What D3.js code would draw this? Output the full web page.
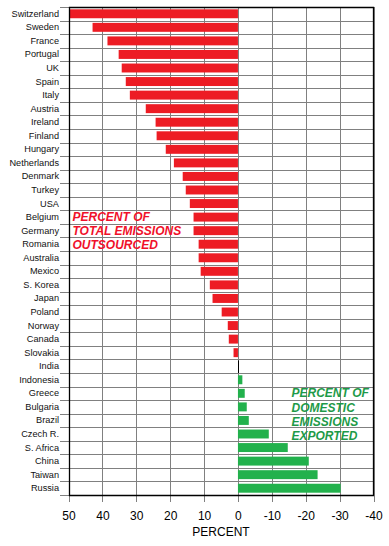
<!DOCTYPE html>
<html>
<head>
<script src="https://d3js.org/d3.v7.min.js"></script>
<style>
    body { margin: 0; background: #fff; }
    text { font-family: Arial, "Liberation Sans", sans-serif; }
</style>
</head>
<body>
<script>
// countries top to bottom, positive = percent of total emissions outsourced,
// negative = percent of domestic emissions exported
var countries = ['Switzerland', 'Sweden', 'France', 'Portugal', 'UK', 'Spain', 'Italy', 'Austria',
    'Ireland', 'Finland', 'Hungary', 'Netherlands', 'Denmark', 'Turkey', 'USA', 'Belgium',
    'Germany', 'Romania', 'Australia', 'Mexico', 'S. Korea', 'Japan', 'Poland', 'Norway',
    'Canada', 'Slovakia', 'India', 'Indonesia', 'Greece', 'Bulgaria', 'Brazil', 'Czech R.',
    'S. Africa', 'China', 'Taiwan', 'Russia'];
var values = [49.6, 42.9, 38.5, 35.2, 34.3, 33.1, 31.9, 27.2,
    24.3, 24.0, 21.3, 18.9, 16.3, 15.4, 14.2, 13.1,
    13.1, 11.6, 11.6, 11.0, 8.3, 7.5, 4.8, 3.0,
    2.7, 1.3, 0, -1.3, -2.0, -2.6, -3.2, -9.1,
    -14.7, -20.9, -23.5, -30.3];
var xTicks = [50, 40, 30, 20, 10, 0, -10, -20, -30, -40];
var outsourcedNote = ['PERCENT OF', 'TOTAL EMISSIONS', 'OUTSOURCED'];
var exportedNote = ['PERCENT OF', 'DOMESTIC', 'EMISSIONS', 'EXPORTED'];

var width = 389, height = 546;
var plotLeft = 68.5, plotRight = 373.5, plotTop = 7, plotBottom = 495;

var data = countries.map((c, i) => ({country: c, value: values[i]}));

var svg = d3.select('body').append('svg')
    .attr('width', width)
    .attr('height', height);

var x = d3.scaleLinear().domain([50, -40]).range([plotLeft, plotRight]);
var y = d3.scaleBand().domain(countries).range([plotTop, plotBottom]);

// grid
var grid = svg.append('g').attr('stroke', '#808080').attr('stroke-width', 1);
grid.selectAll('.vg')
    .data(xTicks)
    .enter().append('line')
    .attr('x1', d => Math.round(x(d)) + 0.5)
    .attr('x2', d => Math.round(x(d)) + 0.5)
    .attr('y1', plotTop)
    .attr('y2', plotBottom + 7);
grid.selectAll('.hg')
    .data(countries.concat(['_end']))
    .enter().append('line')
    .attr('x1', 60)
    .attr('x2', plotRight)
    .attr('y1', d => Math.round(d == '_end' ? plotBottom : y(d)) + 0.5)
    .attr('y2', d => Math.round(d == '_end' ? plotBottom : y(d)) + 0.5);

// bars
var barH = y.bandwidth() * 0.66;
svg.append('g')
    .selectAll('rect')
    .data(data.filter(d => d.value != 0))
    .enter().append('rect')
    .attr('x', d => x(Math.max(0, d.value)))
    .attr('width', d => Math.abs(x(d.value) - x(0)))
    .attr('y', d => y(d.country) + (y.bandwidth() - barH) / 2)
    .attr('height', barH)
    .attr('fill', d => d.value > 0 ? '#ed1c24' : '#22b14c');

// zero-valued country marker
svg.append('g')
    .selectAll('line')
    .data(data.filter(d => d.value == 0))
    .enter().append('line')
    .attr('x1', Math.round(x(0)) + 0.5)
    .attr('x2', Math.round(x(0)) + 0.5)
    .attr('y1', d => y(d.country) + 1)
    .attr('y2', d => y(d.country) + y.bandwidth())
    .attr('stroke', '#000');

// frame
var fl = Math.round(plotLeft) + 0.5, fr = Math.round(plotRight) - 0.5;
svg.append('path')
    .attr('fill', 'none')
    .attr('stroke', '#000')
    .attr('stroke-width', 1.3)
    .attr('d', 'M' + fl + ',' + (plotBottom + 0.5) + 'V' + (plotTop + 0.5) + 'H' + fr + 'V' + (plotBottom + 0.5) + 'Z');

// x axis labels
var xAxis = d3.axisBottom(x)
    .tickValues(xTicks)
    .tickSize(7)
    .tickPadding(9)
    .tickFormat(d => String(d));
var gx = svg.append('g')
    .attr('transform', 'translate(0,' + plotBottom + ')')
    .call(xAxis);
gx.select('.domain').remove();
gx.selectAll('line').remove();
gx.selectAll('text').attr('font-size', 12).attr('fill', '#000').style('font-family', 'Arial, "Liberation Sans", sans-serif');

// y axis labels
var yAxis = d3.axisLeft(y).tickSize(0).tickPadding(9.5);
var gy = svg.append('g')
    .attr('transform', 'translate(' + plotLeft + ',0)')
    .call(yAxis);
gy.select('.domain').remove();
gy.selectAll('text').attr('font-size', 9.2).attr('fill', '#111').style('font-family', 'Arial, "Liberation Sans", sans-serif');

// axis title
svg.append('text')
    .attr('x', (plotLeft + plotRight) / 2)
    .attr('y', 536)
    .attr('text-anchor', 'middle')
    .attr('font-size', 12)
    .text('PERCENT');

// annotations
svg.append('g')
    .selectAll('text')
    .data(outsourcedNote)
    .enter().append('text')
    .attr('x', 72.5)
    .attr('y', (d, i) => 220.7 + i * 14.3)
    .attr('font-size', 12)
    .attr('font-weight', 'bold')
    .attr('font-style', 'italic')
    .attr('fill', '#f0102a')
    .text(d => d);

svg.append('g')
    .selectAll('text')
    .data(exportedNote)
    .enter().append('text')
    .attr('x', 291.5)
    .attr('y', (d, i) => 397.3 + i * 14.3)
    .attr('font-size', 12)
    .attr('font-weight', 'bold')
    .attr('font-style', 'italic')
    .attr('fill', '#1e9a48')
    .text(d => d);
</script>
</body>
</html>
